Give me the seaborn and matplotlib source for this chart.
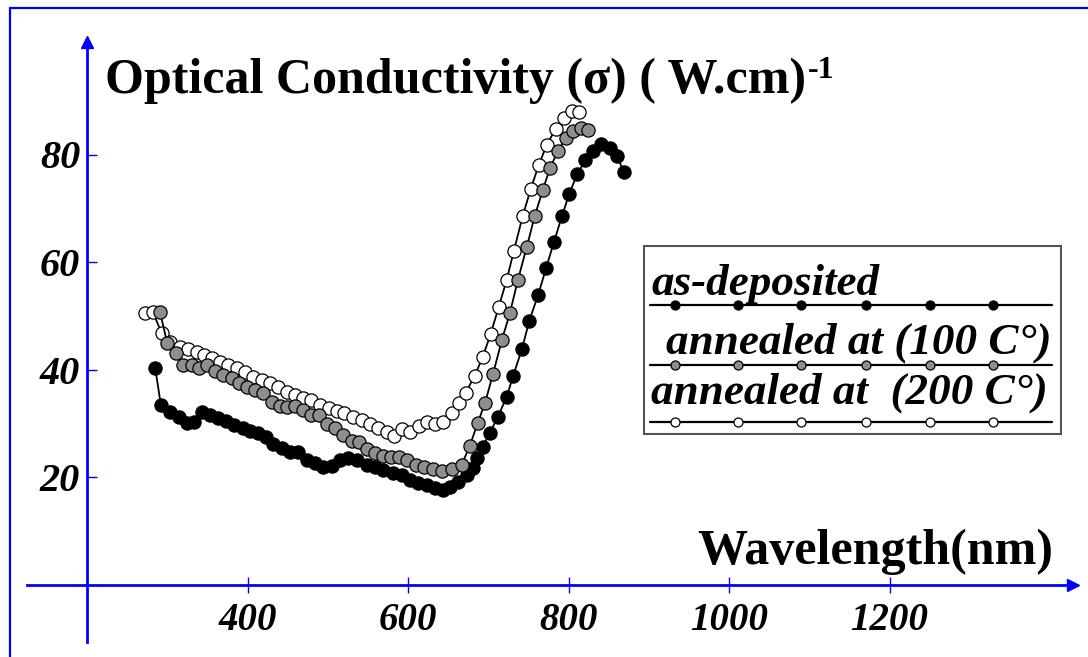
import numpy as np
import pandas as pd
import seaborn as sns
import matplotlib
matplotlib.use("Agg")
import matplotlib.pyplot as plt
from matplotlib.patches import Rectangle
from matplotlib.lines import Line2D

# ---------------- data ----------------
wl_dep = [285, 292, 303, 315, 325, 333, 343, 353, 363, 373, 383, 394, 403, 413, 423,
          432, 443, 453, 463, 474, 484, 494, 505, 515, 525, 536, 549, 559, 569, 581,
          593, 602, 612, 624, 634, 644, 652, 662, 674, 681, 686, 693, 702, 712, 723,
          731, 742, 751, 762, 772, 782, 792, 801, 811, 821, 831, 841, 852, 860, 869]
sig_dep = [40.3, 33.4, 32.1, 31.2, 30.0, 30.2, 32.1, 31.5, 31.0, 30.4, 29.7, 29.1, 28.6, 28.2, 27.4,
           26.1, 25.4, 24.7, 24.7, 23.2, 22.6, 21.9, 22.0, 23.2, 23.6, 23.2, 22.3, 21.9, 21.3, 20.8,
           20.4, 19.4, 18.9, 18.5, 17.9, 17.6, 18.1, 19.1, 20.4, 21.7, 23.6, 25.6, 28.2, 31.2, 34.9,
           38.8, 43.8, 49.0, 53.8, 58.8, 63.8, 68.6, 72.7, 76.4, 78.9, 80.6, 81.9, 81.3, 79.8, 76.8]

wl_100 = [291, 300, 311, 320, 331, 340, 350, 360, 369, 381, 389, 399, 409, 419, 431,
          441, 449, 459, 469, 479, 489, 499, 509, 519, 530, 539, 549, 559, 569, 579,
          589, 599, 610, 620, 631, 642, 655, 667, 677, 687, 696, 706, 717, 727, 737,
          748, 758, 768, 777, 787, 797, 806, 816, 824]
sig_100 = [50.7, 44.9, 43.0, 40.8, 40.8, 40.2, 40.8, 39.7, 39.0, 38.4, 37.5, 36.7, 36.2, 35.6, 33.9,
           33.2, 33.0, 33.2, 32.5, 31.5, 31.5, 29.9, 29.2, 27.9, 26.7, 26.5, 25.2, 24.5, 23.9, 23.7,
           23.7, 23.2, 22.3, 21.9, 21.5, 21.1, 21.5, 22.3, 25.8, 30.1, 33.8, 39.2, 45.5, 50.5, 56.7,
           62.8, 68.6, 73.4, 77.5, 80.7, 83.1, 84.4, 85.0, 84.6]

wl_200 = [272, 282, 293, 303, 316, 326, 337, 346, 356, 366, 376, 387, 397, 407, 418,
          428, 438, 449, 459, 469, 479, 490, 502, 511, 520, 531, 543, 553, 563, 574,
          583, 593, 602, 614, 624, 634, 644, 655, 664, 672, 683, 693, 703, 713, 723,
          732, 743, 753, 763, 773, 784, 794, 804, 813]
sig_200 = [50.5, 50.7, 46.8, 45.1, 44.2, 43.8, 43.3, 42.7, 42.2, 41.4, 40.8, 40.3, 39.5, 38.6, 38.0,
           37.5, 36.7, 35.8, 35.2, 34.7, 34.3, 33.4, 32.8, 32.2, 31.9, 31.2, 30.6, 29.9, 29.2, 28.4,
           27.7, 29.0, 28.3, 29.4, 30.3, 29.8, 30.3, 32.0, 33.8, 35.7, 38.8, 42.3, 46.6, 51.6, 56.7,
           62.1, 68.6, 73.6, 78.1, 81.8, 84.8, 86.8, 88.1, 87.9]

x_ticks = [400, 600, 800, 1000, 1200]
y_ticks = [20, 40, 60, 80]
legend_labels = ["as-deposited", " annealed at (100 C\u00b0)", "annealed at  (200 C\u00b0)"]
face_colors = ["black", "#8e8e8e", "white"]
title_text = "Optical Conductivity (\u03c3) ( W.cm)"
title_sup = "-1"
xlabel_text = "Wavelength(nm)"

# ---------------- style ----------------
sns.set_theme(style="white")
plt.rcParams["font.family"] = ["Liberation Serif", "DejaVu Serif"]

W, H = 1088, 657
BLUE = "#0000ff"
fig = plt.figure(figsize=(W / 100, H / 100), dpi=100, facecolor="white")
ax = fig.add_axes([0, 0, 1, 1])
ax.set_facecolor("white")

def fx(px):
    return px / W

def fy(py):
    return 1 - py / H

# pixel <-> data mapping (y axis at x=200 nm, x axis at sigma=0)
x_axis_px, px_per_nm = 87, 0.8025
y_zero_px, px_per_unit = 584.5, 5.375
ax.set_xlim(200 - x_axis_px / px_per_nm, 200 + (W - x_axis_px) / px_per_nm)
ax.set_ylim((y_zero_px - H) / px_per_unit, y_zero_px / px_per_unit)

# ---------------- series ----------------
series = [(wl_dep, sig_dep, face_colors[0]),
          (wl_200, sig_200, face_colors[2]),
          (wl_100, sig_100, face_colors[1])]
for i, (wl, sig, fc) in enumerate(series):
    df = pd.DataFrame({"wl": wl, "sig": sig})
    sns.lineplot(data=df, x="wl", y="sig", ax=ax, sort=False, color="black",
                 linewidth=1.3, marker="o", markersize=9.5, markerfacecolor=fc,
                 markeredgecolor="black", markeredgewidth=0.9, zorder=3 + i)

# ---------------- axes ----------------
for s in ["top", "right"]:
    ax.spines[s].set_visible(False)
ax.spines["left"].set_position(("data", 200))
ax.spines["bottom"].set_position(("data", 0))
ax.spines["left"].set_bounds((y_zero_px - 642) / px_per_unit, (y_zero_px - 46) / px_per_unit)
ax.spines["bottom"].set_bounds(200 - (x_axis_px - 27) / px_per_nm, 200 + (1070 - x_axis_px) / px_per_nm)
for s in ["left", "bottom"]:
    ax.spines[s].set_color(BLUE)
    ax.spines[s].set_linewidth(2.0)
    ax.spines[s].set_zorder(2)

# arrow heads
ax.plot([200], [(y_zero_px - 42) / px_per_unit], marker="^", color=BLUE, markersize=8,
        clip_on=False, zorder=2)
ax.plot([200 + (1073 - x_axis_px) / px_per_nm], [0], marker=">", color=BLUE, markersize=8,
        clip_on=False, zorder=2)

ax.set_xticks(x_ticks)
ax.set_yticks(y_ticks)
ax.set_xticklabels([str(t) for t in x_ticks])
ax.set_yticklabels([str(t) for t in y_ticks])
ax.tick_params(axis="x", direction="inout", length=11, width=1, color=BLUE, pad=7,
               labelsize=28, bottom=True)
ax.tick_params(axis="y", direction="in", length=7, width=1, color=BLUE, pad=5,
               labelsize=29, left=True)
for lab in ax.get_xticklabels() + ax.get_yticklabels():
    lab.set_fontweight("bold")
    lab.set_fontstyle("italic")
    lab.set_color("black")
ax.set_xlabel("")
ax.set_ylabel("")
ax.grid(False)

# ---------------- titles ----------------
t_main = ax.text(fx(105), fy(93), title_text, transform=ax.transAxes, fontsize=36,
                 fontweight="bold", ha="left", va="baseline", color="black")
ax.text(fx(697), fy(564), xlabel_text, transform=ax.transAxes, fontsize=36,
        fontweight="bold", ha="left", va="baseline", color="black")

fig.canvas.draw()
bb = t_main.get_window_extent(renderer=fig.canvas.get_renderer())
ax.text(fx(bb.x1 + 2), fy(78), title_sup, transform=ax.transAxes, fontsize=23,
        fontweight="bold", ha="left", va="baseline", color="black")

# ---------------- legend (drawn) ----------------
ax.add_patch(Rectangle((fx(644), fy(434)), fx(1061) - fx(644), fy(246) - fy(434),
                       transform=ax.transAxes, facecolor="white", edgecolor="#555555",
                       linewidth=1.5, zorder=6))
text_pos = [(651, 295), (666, 354), (651, 404)]
line_y = [305, 365, 422]
mark_x = [675, 738, 801, 866, 930, 993]
for lab, (tx, ty), ly, fc in zip(legend_labels, text_pos, line_y, face_colors):
    ax.text(fx(tx), fy(ty), lab.strip() if tx > 660 else lab, transform=ax.transAxes,
            fontsize=32.5, fontweight="bold", fontstyle="italic", ha="left",
            va="baseline", color="black", zorder=7)
    ax.add_line(Line2D([fx(650), fx(1052)], [fy(ly), fy(ly)], transform=ax.transAxes,
                       color="black", linewidth=1.6, zorder=7))
    ax.add_line(Line2D([fx(m) for m in mark_x], [fy(ly)] * len(mark_x),
                       transform=ax.transAxes, linestyle="none", marker="o",
                       markersize=6.5, markerfacecolor=fc, markeredgecolor="black",
                       markeredgewidth=0.9, zorder=8))

# ---------------- outer blue frame ----------------
fig.add_artist(Line2D([fx(10), fx(10)], [fy(8), 0], color=BLUE, linewidth=1.6))
fig.add_artist(Line2D([fx(10), 1], [fy(8), fy(8)], color=BLUE, linewidth=1.6))

fig.savefig("out.png", dpi=100, facecolor="white")
